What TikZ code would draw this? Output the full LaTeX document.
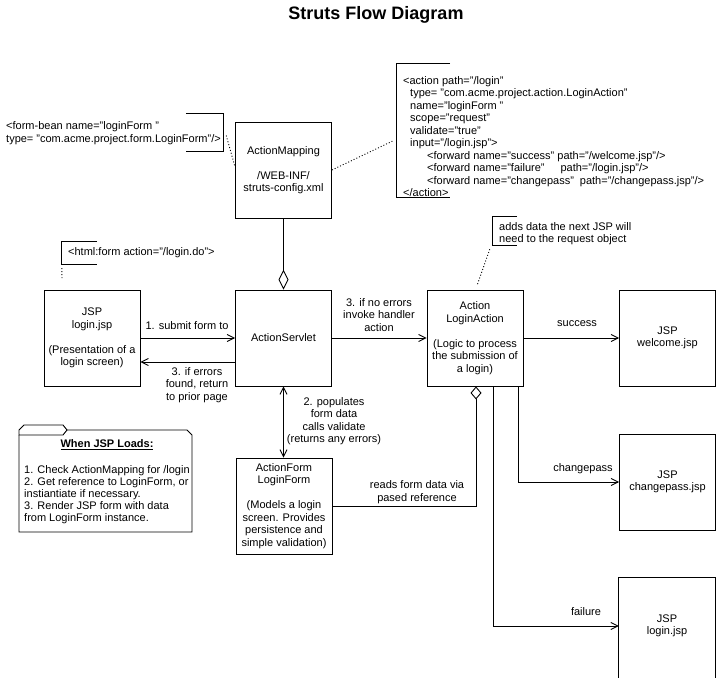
\documentclass[tikz,border=0pt]{standalone}
\usepackage{fontspec}
\setmainfont{Liberation Sans}
\usetikzlibrary{arrows.meta,calc}
\begin{document}
\begin{tikzpicture}[x=1pt,y=-1pt,
  every node/.style={font=\fontsize{11}{12.5}\selectfont, inner sep=0pt},
  box/.style={draw, line width=0.9pt, minimum width=96pt, minimum height=96pt, align=center},
  ghost/.style={draw=none, minimum width=96pt, minimum height=96pt, align=center},
  lbl/.style={align=center},
  notetext/.style={align=left},
  conn/.style={line width=0.9pt},
  arr/.style={conn, -{Straight Barb[length=7pt,width=7pt]}},
  dbl/.style={conn, {Straight Barb[length=7pt,width=7pt]}-{Straight Barb[length=7pt,width=7pt]}},
  agg/.style={conn, -{Diamond[open,length=20pt,width=10pt]}},
  aggsmall/.style={conn, -{Diamond[open,length=13pt,width=11pt]}},
  dots/.style={line width=0.9pt, dash pattern=on 1pt off 2pt},
  bracket/.style={line width=0.9pt},
  area/.style={draw=none, inner sep=0pt}
]
\fill[white] (0,0) rectangle (717,677);
\useasboundingbox (0,0) rectangle (717,677);

% title
\node (title) at (376,15) {\fontsize{18}{20}\selectfont\bfseries Struts Flow Diagram};

% main boxes
\node[box] (am) at (283.5,170) {ActionMapping\\[12.5pt]/WEB-INF/\\struts-config.xml};
\node[box] (as) at (283.5,338) {ActionServlet};
\node[box] (login) at (92,338) {JSP\\login.jsp\\[12.5pt](Presentation of a\\login screen)};
\node[box] (act) at (475,338) {Action\\LoginAction\\[12.5pt](Logic to process\\the submission of\\a login)};
\node[box] (wel) at (667.5,338) {JSP\\welcome.jsp};
\node[box] (cp) at (667.5,482) {JSP\\changepass.jsp};
\node[ghost] (lg2) at (667,626) {JSP\\login.jsp};
\draw[bracket] ($(lg2.south west)+(0,6)$) -- (lg2.north west) -- (lg2.north east) -- ($(lg2.south east)+(0,6)$);
\node[box] (af) at (284,506) {ActionForm\\LoginForm\\[12.5pt](Models a login\\screen. Provides\\persistence and\\simple validation)};

% connectors
\draw[agg] (am.south) -- (as.north);
\draw[arr] (login.east) -- (as.west);
\draw[arr] ($(as.west)+(0,24)$) -- ($(login.east)+(0,24)$);
\draw[arr] (as.east) -- (act.west);
\draw[dbl] (as.south) -- (as.south |- af.north);
\draw[aggsmall] (af.east) -| ($(act.south)+(1,0)$);
\draw[arr] (act.east) -- (wel.west);
\draw[arr] ($(act.south)+(43,0)$) |- (cp.west);
\draw[arr] ($(act.south)+(18,0)$) |- (lg2.west);

% connector labels
\node[lbl] (l1) at (187,326) {1. submit form to};
\node[lbl] (l3a) at (197,385) {3. if errors\\found, return\\to prior page};
\node[lbl] (l3b) at (379,315) {3. if no errors\\invoke handler\\action};
\node[lbl] (l2) at (334,421) {2. populates\\form data\\calls validate\\(returns any errors)};
\node[lbl] (lrd) at (417,492) {reads form data via\\pased reference};
\node[lbl] (lsuc) at (577,324) {success};
\node[lbl] (lcp) at (583,469) {changepass};
\node[lbl] (lfail) at (586,612) {failure};

% form-bean note
\node[notetext, anchor=west] (fbtext) at (6,133) {<form-bean name="loginForm "\\type= "com.acme.project.form.LoginForm"/>};
\node[area, minimum width=37pt, minimum height=37pt] (fb) at (204.5,132.5) {};
\draw[bracket] (fb.north west) -- (fb.north east) -- (fb.south east) -- (fb.south west);
\draw[dots] ($(fb.east)+(3,3)$) -- ($(am.west)+(0,-3)$);

% html:form note
\node[notetext, anchor=west] (hftext) at (68,253) {<html:form action="/login.do">};
\node[area, minimum width=35pt, minimum height=22pt] (hf) at (79.5,253) {};
\draw[bracket] (hf.north east) -- (hf.north west) -- (hf.south west) -- (hf.south east);
\coordinate (hfend) at (62,280);
\draw[dots] ($(hf.south west)+(0,4)$) -- (hfend);

% action mapping note
\node[notetext, anchor=west] (antext) at (403,136.5) {<action path="/login"\\
\hspace*{7pt}type= "com.acme.project.action.LoginAction"\\
\hspace*{7pt}name="loginForm "\\
\hspace*{7pt}scope="request"\\
\hspace*{7pt}validate="true"\\
\hspace*{7pt}input="/login.jsp">\\
\hspace*{24pt}<forward name="success" path="/welcome.jsp"/>\\
\hspace*{24pt}<forward name="failure"\hspace*{16pt}path="/login.jsp"/>\\
\hspace*{24pt}<forward name="changepass"\hspace*{6pt}path="/changepass.jsp"/>\\
</action>};
\node[area, minimum width=53pt, minimum height=133pt] (an) at (423.5,130.5) {};
\draw[bracket] (an.north east) -- (an.north west) -- (an.south west) -- (an.south east);
\draw[dots] (am.east) -- ($(an.west)+(-3,10)$);

% adds data note
\node[notetext, anchor=west] (adtext) at (499,233.5) {adds data the next JSP will\\need to the request object};
\node[area, minimum width=24pt, minimum height=28pt] (ad) at (505,231) {};
\draw[bracket] (ad.north east) -- (ad.north west) -- (ad.south west) -- (ad.south east);
\draw[dots] ($(ad.south west)+(-3,4)$) -- ($(act.north)+(2,-4)$);

% folder note
\node[area, minimum width=173pt, minimum height=102pt] (fold) at (105.5,481) {};
\draw[bracket] (19,435) -- (19,430) -- (24,425) -- (63,425) -- (67,430) -- (63,435) -- cycle;
\draw[bracket] (19,435) -- (19,532) -- (192,532) -- (192,435) -- (187,430) -- (67,430);
\node[lbl] (foldtitle) at (107,445) {\bfseries\underline{When JSP Loads:}};
\node[notetext, anchor=west, font=\fontsize{11}{12}\selectfont] (foldtext) at (24,495) {1. Check ActionMapping for /login\\2. Get reference to LoginForm, or\\instiantiate if necessary.\\3. Render JSP form with data\\from LoginForm instance.};
\end{tikzpicture}
\end{document}
